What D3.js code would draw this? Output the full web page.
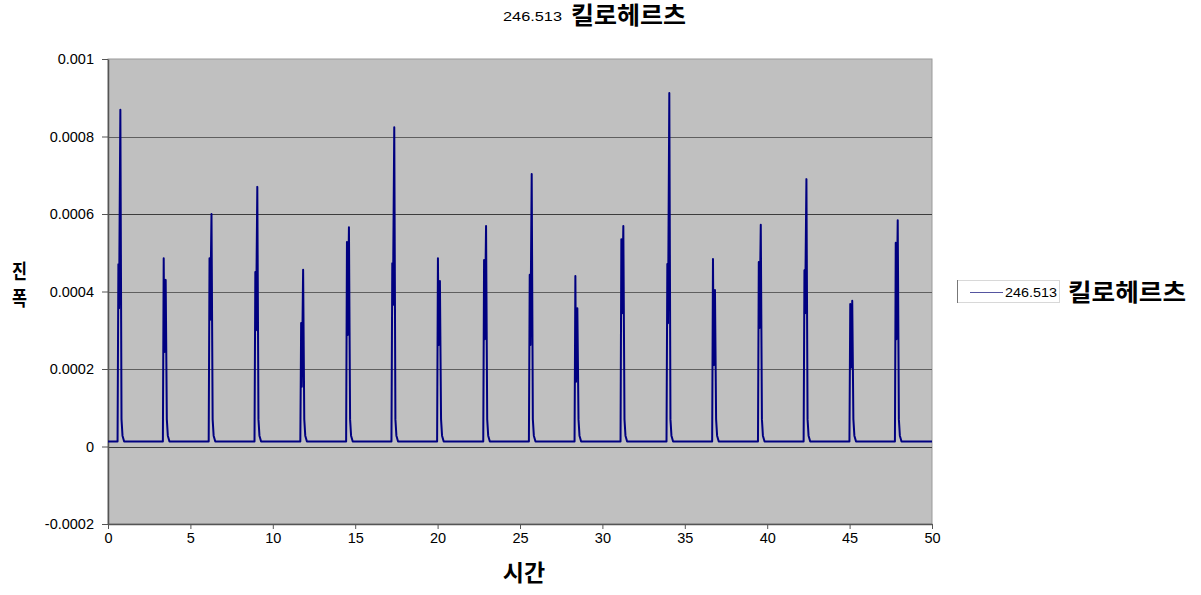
<!DOCTYPE html>
<html>
<head>
<meta charset="utf-8">
<script src="https://cdnjs.cloudflare.com/ajax/libs/d3/7.8.5/d3.min.js"></script>
<style>
	body { margin: 0; background: #fff; }
	svg { display: block; }
	.num { font-family: "Liberation Sans", Arial, sans-serif; fill: #000; }
	.kor { font-family: "Noto Sans CJK KR", sans-serif; font-weight: bold; fill: #000; }
</style>
</head>
<body>
<svg id="chart" width="1201" height="595"></svg>
<script>
"use strict";

var series_name = "246.513",
	unit_label = "킬로헤르츠",
	x_label = "시간",
	y_label = ["진", "폭"];

var x_ticks = [0, 5, 10, 15, 20, 25, 30, 35, 40, 45, 50];
var y_ticks = [-0.0002, 0, 0.0002, 0.0004, 0.0006, 0.0008, 0.001];
var y_tick_labels = ["-0.0002", "0", "0.0002", "0.0004", "0.0006", "0.0008", "0.001"];

// time where each pulse starts rising
var pulse_start = [0.58, 3.33, 6.11, 8.89, 11.67, 14.45, 17.2, 19.97, 22.77, 25.54, 28.31, 31.1, 33.89, 36.66, 39.44, 42.21, 44.99, 47.75];
// first spike, dip between spikes, second spike
var pulse_first = [0.00047, 0.000486, 0.000486, 0.00045, 0.000319, 0.000528, 0.000473, 0.000486, 0.000481, 0.000443, 0.00044, 0.000535, 0.000471, 0.000484, 0.000476, 0.000455, 0.000368, 0.000526];
var pulse_dip = [0.000357, 0.000244, 0.000327, 0.0003, 0.000154, 0.000288, 0.000365, 0.000262, 0.000277, 0.000262, 0.000167, 0.000344, 0.000318, 0.00021, 0.000306, 0.000344, 0.000203, 0.000277];
var pulse_second = [0.000869, 0.00043, 0.0006, 0.00067, 0.000456, 0.000566, 0.000824, 0.000427, 0.000569, 0.000703, 0.000357, 0.000569, 0.000912, 0.000404, 0.000572, 0.00069, 0.000376, 0.000584];
// the decay after the second spike
var tail_levels = [0.00007, 0.000028];
var base_level = 0.000013;

var plot_left = 108,
	plot_right = 932,
	plot_top = 59,
	plot_bottom = 524;

var svg = d3.select("#chart");

var x = d3.scaleLinear().domain([0, 50]).range([plot_left, plot_right]);
var y = d3.scaleLinear().domain([-0.0002, 0.001]).range([plot_bottom, plot_top]);

// build the signal points from the pulse tables
var points = [[0, base_level]];
pulse_start.forEach(function(t, i) {
	points.push([t, base_level]);
	points.push([t + 0.05, pulse_first[i]]);
	points.push([t + 0.09, pulse_dip[i]]);
	points.push([t + 0.17, pulse_second[i]]);
	points.push([t + 0.24, tail_levels[0]]);
	points.push([t + 0.30, tail_levels[1]]);
	points.push([t + 0.40, base_level]);
});
points.push([50, base_level]);

//plot background
svg.append("rect")
	.attr("x", plot_left)
	.attr("y", plot_top)
	.attr("width", plot_right - plot_left)
	.attr("height", plot_bottom - plot_top)
	.attr("fill", "#c0c0c0")
	.attr("stroke", "#9a9a9a")
	.attr("stroke-width", 1);

//gridlines
svg.append("g")
	.selectAll("line")
	.data(y_ticks.filter(function(d) { return d > -0.0002 && d < 0.001; }))
	.join("line")
		.attr("x1", plot_left)
		.attr("x2", plot_right)
		.attr("y1", function(d) { return Math.round(y(d)) + 0.5; })
		.attr("y2", function(d) { return Math.round(y(d)) + 0.5; })
		.attr("stroke", function(d) { return (Math.abs(d - 0.0006) < 1e-9 || d == 0) ? "#3c3c3c" : "#5f5f5f"; })
		.attr("stroke-width", 1.2);

//y axis
var y_axis = svg.append("g")
	.attr("transform", "translate(" + plot_left + ",0)")
	.call(d3.axisLeft(y)
		.tickValues(y_ticks)
		.tickFormat(function(d, i) { return y_tick_labels[i]; })
		.tickSizeInner(6)
		.tickSizeOuter(0)
		.tickPadding(8));
y_axis.select(".domain").attr("stroke", "#555").attr("stroke-width", 1.5);
y_axis.selectAll(".tick line").attr("stroke", "#555");
y_axis.selectAll("text").attr("class", "num").style("font-size", "14.5px");

//x axis at the bottom of the plot
var x_axis = svg.append("g")
	.attr("transform", "translate(0," + plot_bottom + ")")
	.call(d3.axisBottom(x)
		.tickValues(x_ticks)
		.tickSizeInner(5)
		.tickSizeOuter(0)
		.tickPadding(4));
x_axis.select(".domain").attr("stroke", "#555").attr("stroke-width", 1.5);
x_axis.selectAll(".tick line").attr("stroke", "#555");
x_axis.selectAll("text").attr("class", "num").style("font-size", "14.5px");

//signal line
svg.append("path")
	.datum(points)
	.attr("fill", "none")
	.attr("stroke", "#000080")
	.attr("stroke-width", 2)
	.attr("stroke-linejoin", "round")
	.attr("d", d3.line()
		.x(function(d) { return x(d[0]); })
		.y(function(d) { return y(d[1]); }));

//title (the reference text is stretched sideways)
svg.append("text")
	.attr("class", "num")
	.attr("x", 503)
	.attr("y", 21)
	.attr("textLength", 59)
	.attr("lengthAdjust", "spacingAndGlyphs")
	.style("font-size", "12px")
	.text(series_name);
svg.append("text")
	.attr("class", "kor")
	.attr("x", 571)
	.attr("y", 24)
	.attr("textLength", 115)
	.attr("lengthAdjust", "spacingAndGlyphs")
	.style("font-size", "24px")
	.text(unit_label);

//axis labels
svg.append("text")
	.attr("class", "kor")
	.attr("x", 524)
	.attr("y", 581)
	.attr("text-anchor", "middle")
	.style("font-size", "23px")
	.text(x_label);

svg.append("g")
	.selectAll("text")
	.data(y_label)
	.join("text")
		.attr("class", "kor")
		.attr("x", 12)
		.attr("y", function(d, i) { return 279 + i * 27; })
		.attr("textLength", 15)
		.attr("lengthAdjust", "spacingAndGlyphs")
		.style("font-size", "20px")
		.text(function(d) { return d; });

//legend
var legend = svg.append("g");
legend.append("rect")
	.attr("x", 957.5)
	.attr("y", 280.5)
	.attr("width", 102)
	.attr("height", 22)
	.attr("fill", "#fff")
	.attr("stroke", "#d8d8d8");
legend.append("line")
	.attr("x1", 957.5).attr("x2", 957.5)
	.attr("y1", 280).attr("y2", 303)
	.attr("stroke", "#777");
legend.append("line")
	.attr("x1", 970).attr("x2", 1003)
	.attr("y1", 292.5).attr("y2", 292.5)
	.attr("stroke", "#5555a0")
	.attr("stroke-width", 1.2);
legend.append("text")
	.attr("class", "num")
	.attr("x", 1005)
	.attr("y", 297)
	.attr("textLength", 52)
	.attr("lengthAdjust", "spacingAndGlyphs")
	.style("font-size", "12.5px")
	.text(series_name);
legend.append("text")
	.attr("class", "kor")
	.attr("x", 1068)
	.attr("y", 301)
	.attr("textLength", 118)
	.attr("lengthAdjust", "spacingAndGlyphs")
	.style("font-size", "24px")
	.text(unit_label);
</script>
</body>
</html>
